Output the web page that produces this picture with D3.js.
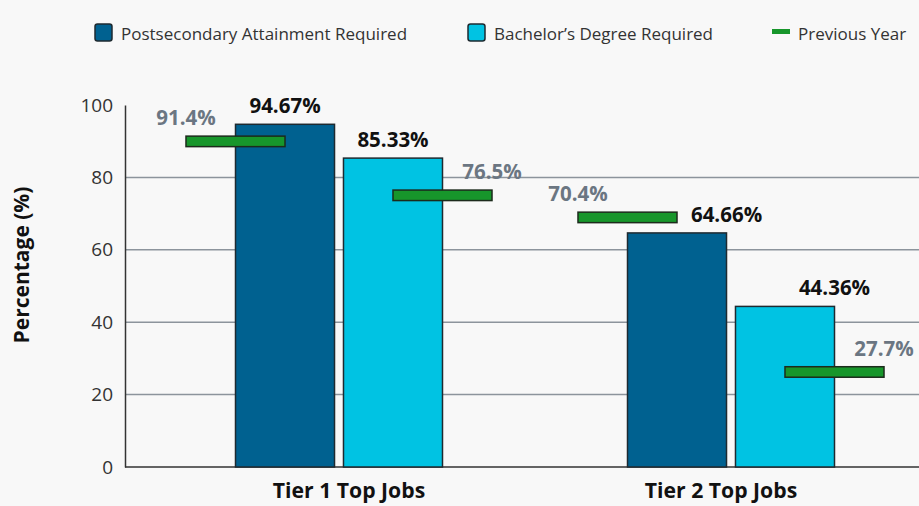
<!DOCTYPE html>
<html>
<head>
<meta charset="utf-8">
<script src="https://cdn.jsdelivr.net/npm/d3@7"></script>
<style>
  body { margin: 0; background: #f8f8f8; }
  svg { display: block; font-family: "Open Sans", "Noto Sans", sans-serif; }
</style>
</head>
<body>
<div id="chart"></div>
<script>
// chart data
const categories = ["Tier 1 Top Jobs", "Tier 2 Top Jobs"];
const seriesNames = ["Postsecondary Attainment Required", "Bachelor\u2019s Degree Required"];
const currentValues = [[94.67, 85.33], [64.66, 44.36]];
const previousValues = [[91.4, 76.5], [70.4, 27.7]];
const yTicks = [0, 20, 40, 60, 80, 100];
const legendLabels = ["Postsecondary Attainment Required", "Bachelor\u2019s Degree Required", "Previous Year"];

const ctx = {
    w: 919,
    h: 506,
    left: 125,
    top: 105,
    bottom: 467,
    colors: ["#006190", "#00c3e3"],
    green: "#17962b"
};

function createViz() {
    const svg = d3.select("#chart").append("svg")
        .attr("width", ctx.w).attr("height", ctx.h);

    svg.append("rect").attr("width", ctx.w).attr("height", ctx.h).attr("fill", "#f8f8f8");

    const y = d3.scaleLinear().domain([0, 100]).range([ctx.bottom, ctx.top]);
    const x0 = d3.scaleBand().domain(categories).range([143, 927]);
    const groupPad = 92.5;
    const x1 = d3.scaleBand().domain([0, 1])
        .range([groupPad, x0.bandwidth() - groupPad]).paddingInner(0.083);
    const bw = x1.bandwidth();
    // category labels sit on their own band scale
    const xLab = d3.scaleBand().domain(categories).range([163, 907]);

    // gridlines
    svg.append("g").selectAll("line")
        .data(yTicks.filter(t => t > 0 && t < 100))
        .join("line")
        .attr("x1", ctx.left).attr("x2", ctx.w)
        .attr("y1", d => y(d)).attr("y2", d => y(d))
        .attr("stroke", "#8c949c").attr("stroke-width", 1.5);

    // y axis
    const yAxis = svg.append("g")
        .attr("transform", "translate(" + ctx.left + ",0)")
        .call(d3.axisLeft(y).tickValues(yTicks).tickSize(0).tickPadding(12));
    yAxis.select(".domain").attr("stroke", "#333").attr("stroke-width", 1.5);
    yAxis.selectAll("text").attr("font-size", 19).attr("fill", "#333")
        .attr("font-family", "Open Sans");

    // x axis line
    svg.append("line")
        .attr("x1", ctx.left).attr("x2", ctx.w)
        .attr("y1", y(0)).attr("y2", y(0))
        .attr("stroke", "#333").attr("stroke-width", 1.5);

    // category labels
    svg.append("g").selectAll("text")
        .data(categories)
        .join("text")
        .attr("x", d => xLab(d) + xLab.bandwidth() / 2)
        .attr("y", 498)
        .attr("text-anchor", "middle")
        .attr("font-size", 21.2).attr("font-weight", "bold").attr("fill", "#111")
        .text(d => d);

    // y axis title
    svg.append("text")
        .attr("transform", "translate(29,265)rotate(-90)")
        .attr("text-anchor", "middle")
        .attr("font-size", 21).attr("font-weight", "bold").attr("fill", "#111")
        .text("Percentage (%)");

    const flat = [];
    categories.forEach((c, i) => {
        seriesNames.forEach((s, j) => {
            flat.push({ cat: c, gi: i, si: j, cur: currentValues[i][j], prev: previousValues[i][j] });
        });
    });

    const groups = svg.append("g");

    // bars
    groups.selectAll("rect.bar")
        .data(flat)
        .join("rect")
        .attr("class", "bar")
        .attr("x", d => x0(d.cat) + x1(d.si))
        .attr("y", d => y(d.cur))
        .attr("width", bw)
        .attr("height", d => y(0) - y(d.cur))
        .attr("fill", d => ctx.colors[d.si])
        .attr("stroke", "#1e2a30").attr("stroke-width", 1.5);

    // previous year markers: shifted outward by half a bar
    const markerX = d => x0(d.cat) + x1(d.si) + (d.si === 0 ? -bw / 2 : bw / 2);
    groups.selectAll("rect.prev")
        .data(flat)
        .join("rect")
        .attr("class", "prev")
        .attr("x", markerX)
        .attr("y", d => y(d.prev))
        .attr("width", bw)
        .attr("height", 10.5)
        .attr("fill", ctx.green)
        .attr("stroke", "#1c2b1c").attr("stroke-width", 1.5);

    // value labels
    groups.selectAll("text.val")
        .data(flat)
        .join("text")
        .attr("class", "val")
        .attr("x", d => x0(d.cat) + x1(d.si) + bw / 2 + (d.gi === 1 ? bw / 2 : 0))
        .attr("y", d => y(d.cur) - 11)
        .attr("text-anchor", "middle")
        .attr("font-size", 20.5).attr("font-weight", "bold").attr("fill", "#111")
        .text(d => d3.format(".2f")(d.cur) + "%");

    // previous year labels at outer edge of marker
    groups.selectAll("text.pv")
        .data(flat)
        .join("text")
        .attr("class", "pv")
        .attr("x", d => markerX(d) + (d.si === 0 ? 0 : bw))
        .attr("y", d => y(d.prev) - 11)
        .attr("text-anchor", "middle")
        .attr("font-size", 20.5).attr("font-weight", "bold").attr("fill", "#6b7682")
        .text(d => d.prev + "%");

    // legend
    const legendX = [95, 468, 772];
    const legend = svg.append("g");
    legendLabels.forEach((lab, i) => {
        if (i < 2) {
            legend.append("rect")
                .attr("x", legendX[i]).attr("y", 24)
                .attr("width", 17).attr("height", 17).attr("rx", 2.5)
                .attr("fill", ctx.colors[i])
                .attr("stroke", "#1e2a30").attr("stroke-width", 1.5);
        } else {
            legend.append("rect")
                .attr("x", legendX[i]).attr("y", 29)
                .attr("width", 18).attr("height", 5)
                .attr("fill", ctx.green);
        }
        legend.append("text")
            .attr("x", legendX[i] + 26).attr("y", 33)
            .attr("dominant-baseline", "central")
            .attr("font-size", 17).attr("fill", "#333")
            .text(lab);
    });
}
createViz();
</script>
</body>
</html>
